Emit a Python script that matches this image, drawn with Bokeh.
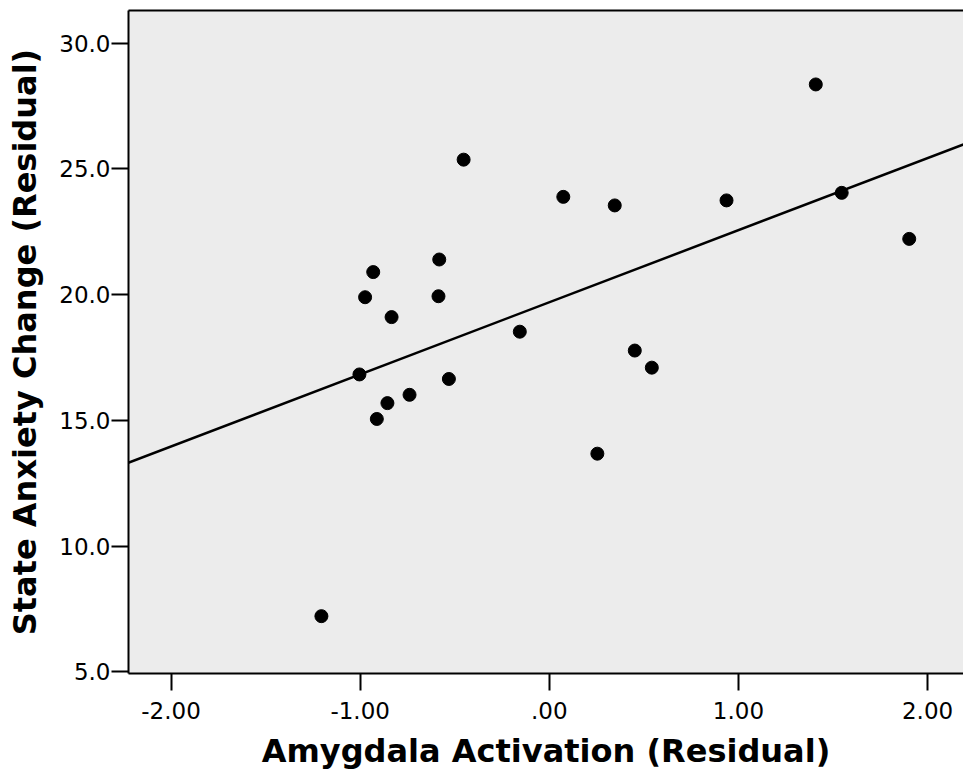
from bokeh.plotting import figure
from bokeh.models import Range1d, FixedTicker, Slope, LinearAxis
from bokeh.embed import file_html
from bokeh.resources import INLINE

# ---- data ----
amygdala = [-1.205, -1.004, -0.974, -0.931, -0.912, -0.856, -0.834, -0.739,
            -0.582, -0.586, -0.531, -0.453, -0.156, 0.074, 0.254, 0.346,
            0.452, 0.542, 0.937, 1.409, 1.546, 1.903]
anxiety = [7.22, 16.83, 19.90, 20.90, 15.06, 15.69, 19.11, 16.02,
           21.40, 19.94, 16.65, 25.37, 18.53, 23.89, 13.68, 23.55,
           17.78, 17.10, 23.75, 28.36, 24.05, 22.22]

x_ticks = [-2, -1, 0, 1, 2]
x_tick_labels = ["-2.00", "-1.00", ".00", "1.00", "2.00"]
y_ticks = [5, 10, 15, 20, 25, 30]
y_tick_labels = ["5.0", "10.0", "15.0", "20.0", "25.0", "30.0"]

fit_gradient = 2.866
fit_intercept = 19.70

x_label = "Amygdala Activation (Residual)"
y_label = "State Anxiety Change (Residual)"

# ---- figure ----
p = figure(width=963, height=777, output_backend="svg", toolbar_location=None,
           x_range=Range1d(-2.225, 2.19), y_range=Range1d(4.94, 31.30),
           min_border_left=128, min_border_right=0, min_border_top=10,
           min_border_bottom=104,
           background_fill_color="#ececec", border_fill_color="white")
p.outline_line_color = None
p.grid.visible = False

xax = p.below[0]
yax = p.left[0]

for ax in (xax, yax):
    ax.axis_line_width = 2
    ax.axis_line_color = "black"
    ax.major_tick_line_width = 2
    ax.major_tick_line_color = "black"
    ax.major_tick_out = 17
    ax.major_tick_in = 0
    ax.minor_tick_out = 0
    ax.minor_tick_in = 0
    ax.major_label_text_font = "DejaVu Sans"
    ax.major_label_text_font_size = "23px"
    ax.major_label_text_color = "black"
    ax.axis_label_text_font = "DejaVu Sans"
    ax.axis_label_text_font_style = "bold"
    ax.axis_label_text_font_size = "32px"
    ax.axis_label_text_color = "black"

xax.ticker = FixedTicker(ticks=x_ticks)
xax.major_label_overrides = {t: l for t, l in zip(x_ticks, x_tick_labels)}
xax.major_label_standoff = 11
xax.axis_label = x_label
xax.axis_label_standoff = 10

yax.ticker = FixedTicker(ticks=y_ticks)
yax.major_label_overrides = {t: l for t, l in zip(y_ticks, y_tick_labels)}
yax.major_label_standoff = 1
yax.axis_label = y_label
yax.axis_label_standoff = 12

# top border line
top = LinearAxis(ticker=FixedTicker(ticks=[]), axis_line_width=2,
                 axis_line_color="black", major_tick_out=0, major_tick_in=0,
                 minor_tick_out=0, minor_tick_in=0, major_label_standoff=0)
p.add_layout(top, "above")

# regression line
p.add_layout(Slope(gradient=fit_gradient, y_intercept=fit_intercept,
                   line_color="black", line_width=2.5))

# points
p.scatter(amygdala, anxiety, size=13, marker="circle",
          fill_color="black", line_color="black")

open("out.html", "w").write(file_html(p, INLINE))
